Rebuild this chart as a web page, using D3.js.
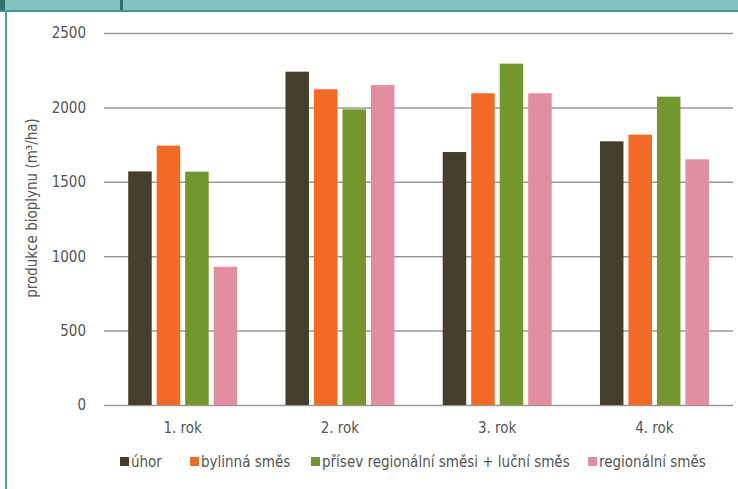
<!DOCTYPE html>
<html><head><meta charset="utf-8">
<script src="https://cdn.jsdelivr.net/npm/d3@7"></script>
<style>
html,body{margin:0;padding:0;background:#fff;}
svg{display:block;font-family:"DejaVu Sans Condensed","DejaVu Sans",sans-serif;font-stretch:condensed;}
</style></head>
<body>
<svg id="chart" width="738" height="489"></svg>
<script>
const categories = ["1. rok", "2. rok", "3. rok", "4. rok"];
const seriesNames = ["úhor", "bylinná směs", "přísev regionální směsi + luční směs", "regionální směs"];
const uhor = [1570, 2240, 1700, 1772];
const bylinna = [1743, 2122, 2095, 1817];
const prisev = [1568, 1987, 2294, 2072];
const regionalni = [929, 2150, 2095, 1651];
const yTicks = [0, 500, 1000, 1500, 2000, 2500];
const colors = ["#453e2c", "#f26a25", "#74962e", "#e38ea0"];
const yTitle = "produkce bioplynu (m³/ha)";

const seriesValues = [uhor, bylinna, prisev, regionalni];
const svg = d3.select("#chart");

// frame
svg.append("rect").attr("x",0).attr("y",0).attr("width",738).attr("height",10).attr("fill","#86c3c0");
svg.append("rect").attr("x",0).attr("y",10).attr("width",738).attr("height",2).attr("fill","#3e9592");
svg.append("rect").attr("x",5).attr("y",10).attr("width",2).attr("height",479).attr("fill","#4fa6a3");
svg.append("rect").attr("x",0).attr("y",0).attr("width",5).attr("height",10).attr("fill","#2f6f6d");
svg.append("rect").attr("x",120).attr("y",0).attr("width",3).attr("height",10).attr("fill","#2f6f6d");

const margin = {left:104, right:5, top:33, bottom:84};
const W = 738, H = 489;
const x0 = d3.scaleBand().domain(categories).range([margin.left, W - margin.right]).padding(0);
const x1 = d3.scaleBand().domain(d3.range(4))
  .range([x0.bandwidth()*0.154, x0.bandwidth()*0.847]).paddingInner(0.175).paddingOuter(0);
const y = d3.scaleLinear().domain([0, 2500]).range([H - margin.bottom, margin.top]);

// gridlines
const yAxis = d3.axisLeft(y).tickValues(yTicks).tickFormat(d3.format("d"))
  .tickSize(-(W - margin.right - margin.left)).tickPadding(18);
const ga = svg.append("g").attr("transform", `translate(${margin.left},0)`).call(yAxis);
ga.select(".domain").remove();
ga.selectAll(".tick line").attr("stroke","#9a9a9a").attr("stroke-width",1.5);
ga.selectAll(".tick text").attr("fill","#555").attr("font-size",15)
  .attr("font-family","DejaVu Sans Condensed, DejaVu Sans, sans-serif");

// bars
const groups = svg.append("g").selectAll("g").data(categories).join("g")
  .attr("transform", d => `translate(${x0(d)},0)`);
groups.selectAll("rect").data((c,i) => seriesValues.map((s,j) => ({j, v:s[i]}))).join("rect")
  .attr("x", d => x1(d.j))
  .attr("width", x1.bandwidth())
  .attr("y", d => y(d.v))
  .attr("height", d => y(0) - y(d.v))
  .attr("fill", d => colors[d.j]);

// x axis labels
const xAxis = d3.axisBottom(x0).tickSize(0).tickPadding(17);
const gx = svg.append("g").attr("transform", `translate(0,${y(0)})`).call(xAxis);
gx.select(".domain").remove();
gx.selectAll(".tick text").attr("fill","#555").attr("font-size",15)
  .attr("font-family","DejaVu Sans Condensed, DejaVu Sans, sans-serif");

// y title
svg.append("text")
  .attr("transform", "translate(37,208) rotate(-90)")
  .attr("text-anchor","middle")
  .attr("fill","#555")
  .attr("font-size",15)
  .text(yTitle);

// legend
const legX = [120, 190, 311, 588];
const leg = svg.append("g").selectAll("g").data(seriesNames).join("g")
  .attr("transform", (d,i) => `translate(${legX[i]},457)`);
leg.append("rect").attr("width",9).attr("height",9).attr("fill",(d,i)=>colors[i]);
leg.append("text").attr("x",11).attr("y",10).attr("fill","#555").attr("font-size",15).text(d=>d);
</script>
</body></html>
